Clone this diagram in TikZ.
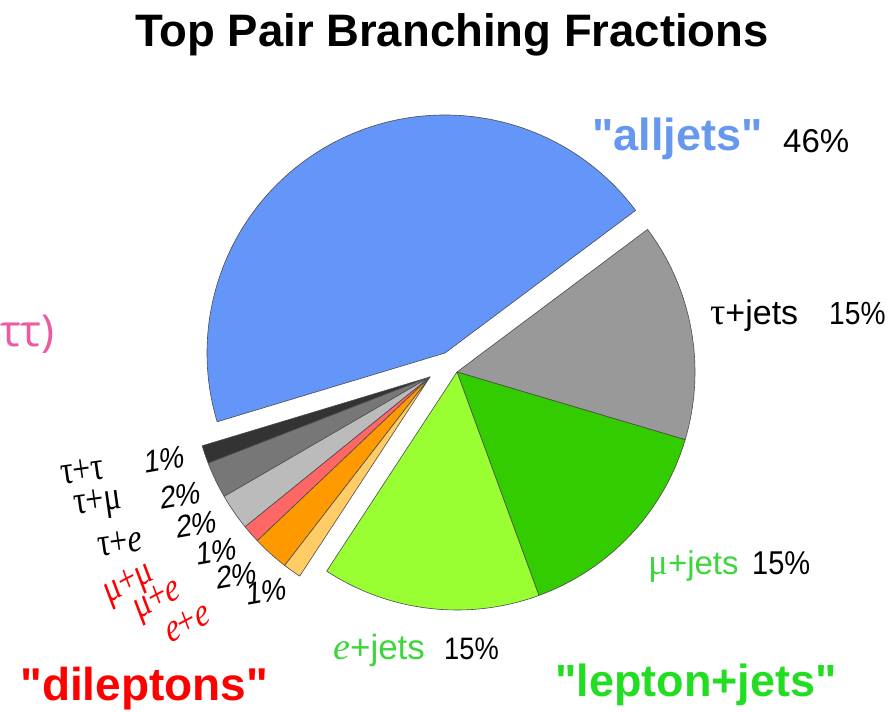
\documentclass[tikz,border=0pt]{standalone}
\usepackage{fontspec}
\setmainfont{Liberation Sans}[Ligatures=TeXOff]
\newfontfamily\grk{Liberation Serif}
\newfontfamily\pinkfont{Open Sans}
\newcommand\fsz[1]{\fontsize{#1}{#1}\selectfont}

\definecolor{alljetsblue}{RGB}{100,150,250}
\definecolor{alljetstext}{RGB}{102,153,238}
\definecolor{taujets}{RGB}{153,153,153}
\definecolor{mujets}{RGB}{51,204,0}
\definecolor{ejets}{RGB}{153,255,51}
\definecolor{tautau}{RGB}{51,51,51}
\definecolor{taumu}{RGB}{119,119,119}
\definecolor{taue}{RGB}{187,187,187}
\definecolor{mumu}{RGB}{255,102,102}
\definecolor{mue}{RGB}{255,153,0}
\definecolor{ee}{RGB}{255,204,102}
\definecolor{ljgreen}{RGB}{34,221,34}
\definecolor{ljtext}{RGB}{60,215,60}
\definecolor{dlred}{RGB}{255,0,0}
\definecolor{pink}{RGB}{238,90,160}

\tikzset{
  slice/.style={draw=black!70, line width=0.6pt, line join=round},
  lbl/.style={inner sep=0pt, anchor=base west},
  narrow/.style={lbl, xscale=0.88},
  pct/.style={lbl, rotate=10, xslant=0.2, xscale=0.92, font=\fsz{31}},
  chan/.style={lbl, rotate=8, xscale=0.8, font=\fsz{40}\grk},
  redchan/.style={chan, rotate=16, font=\fsz{40}\grk, text=dlred},
}

\begin{document}
\begin{tikzpicture}[x=1pt,y=1pt]
\useasboundingbox (0,0) rectangle (890,711);

% wedge apexes of the three exploded groups
\coordinate (cA) at (445,358);
\coordinate (cL) at (457,339);
\coordinate (cD) at (430,334);
\def\R{238}

% all-jets
\filldraw[slice, fill=alljetsblue] (cA) -- ++(36.8:\R) arc[start angle=36.8, end angle=196.8, radius=\R] -- cycle;

% lepton + jets
\filldraw[slice, fill=taujets] (cL) -- ++(36.8:\R) arc[start angle=36.8, end angle=-16.53, radius=\R] -- cycle;
\filldraw[slice, fill=mujets] (cL) -- ++(-16.53:\R) arc[start angle=-16.53, end angle=-69.87, radius=\R] -- cycle;
\filldraw[slice, fill=ejets] (cL) -- ++(-69.87:\R) arc[start angle=-69.87, end angle=-123.2, radius=\R] -- cycle;

% dileptons
\filldraw[slice, fill=tautau] (cD) -- ++(196.8:\R) arc[start angle=196.8, end angle=201.24, radius=\R] -- cycle;
\filldraw[slice, fill=taumu] (cD) -- ++(201.24:\R) arc[start angle=201.24, end angle=210.13, radius=\R] -- cycle;
\filldraw[slice, fill=taue] (cD) -- ++(210.13:\R) arc[start angle=210.13, end angle=219.02, radius=\R] -- cycle;
\filldraw[slice, fill=mumu] (cD) -- ++(219.02:\R) arc[start angle=219.02, end angle=223.47, radius=\R] -- cycle;
\filldraw[slice, fill=mue] (cD) -- ++(223.47:\R) arc[start angle=223.47, end angle=232.36, radius=\R] -- cycle;
\filldraw[slice, fill=ee] (cD) -- ++(232.36:\R) arc[start angle=232.36, end angle=236.8, radius=\R] -- cycle;

% title
\node[inner sep=0pt, anchor=base, font=\fsz{45.5}\bfseries] (title) at (452,664) {Top Pair Branching Fractions};

% group labels
\node[lbl, font=\fsz{45}\bfseries, text=alljetstext] (alljets) at (592,560) {"alljets"};
\node[lbl, font=\fsz{33}] (alljetspct) at (783,558) {46\%};
\node[lbl, font=\fsz{46}\bfseries, text=dlred] (dileptons) at (20,11) {"dileptons"};
\node[lbl, font=\fsz{45}\bfseries, text=ljgreen] (leptonjets) at (555,14) {"lepton+jets"};

% lepton+jets channels
\node[lbl, font=\fsz{34}] (taujetslbl) at (710,386) {{\grk\fsz{38}τ}+jets};
\node[narrow, font=\fsz{32}] (taujetspct) at (829,386) {15\%};
\node[lbl, font=\fsz{33}, text=ljtext] (mujetslbl) at (648,136) {{\grk\fsz{37}μ}+jets};
\node[narrow, font=\fsz{33}] (mujetspct) at (752,136) {15\%};
\node[lbl, font=\fsz{35}, text=ljtext] (ejetslbl) at (333,51) {{\grk\itshape\fsz{38}e}+jets};
\node[narrow, font=\fsz{31}] (ejetspct) at (444,51) {15\%};

% dilepton channels
\node[chan] (ttlbl) at (62,226) {τ+τ};
\node[chan] (tmlbl) at (75,196) {τ+μ};
\node[chan] (telbl) at (99,154) {τ+{\itshape e}};
\node[redchan] (mmlbl) at (108,107) {μ+μ};
\node[redchan] (melbl) at (138,91) {μ+{\itshape e}};
\node[redchan] (eelbl) at (170,67) {{\itshape e}+{\itshape e}};

\node[pct] (ttpct) at (144,237) {1\%};
\node[pct] (tmpct) at (160,201) {2\%};
\node[pct] (tepct) at (176,172) {2\%};
\node[pct] (mmpct) at (196,145) {1\%};
\node[pct] (mepct) at (216,121) {2\%};
\node[pct] (eepct) at (246,105) {1\%};

% fragment at the left edge
\node[inner sep=0pt, anchor=east, font=\fsz{44}\pinkfont, text=pink] (frag) at (55,377) {ττ)};
\end{tikzpicture}
\end{document}
